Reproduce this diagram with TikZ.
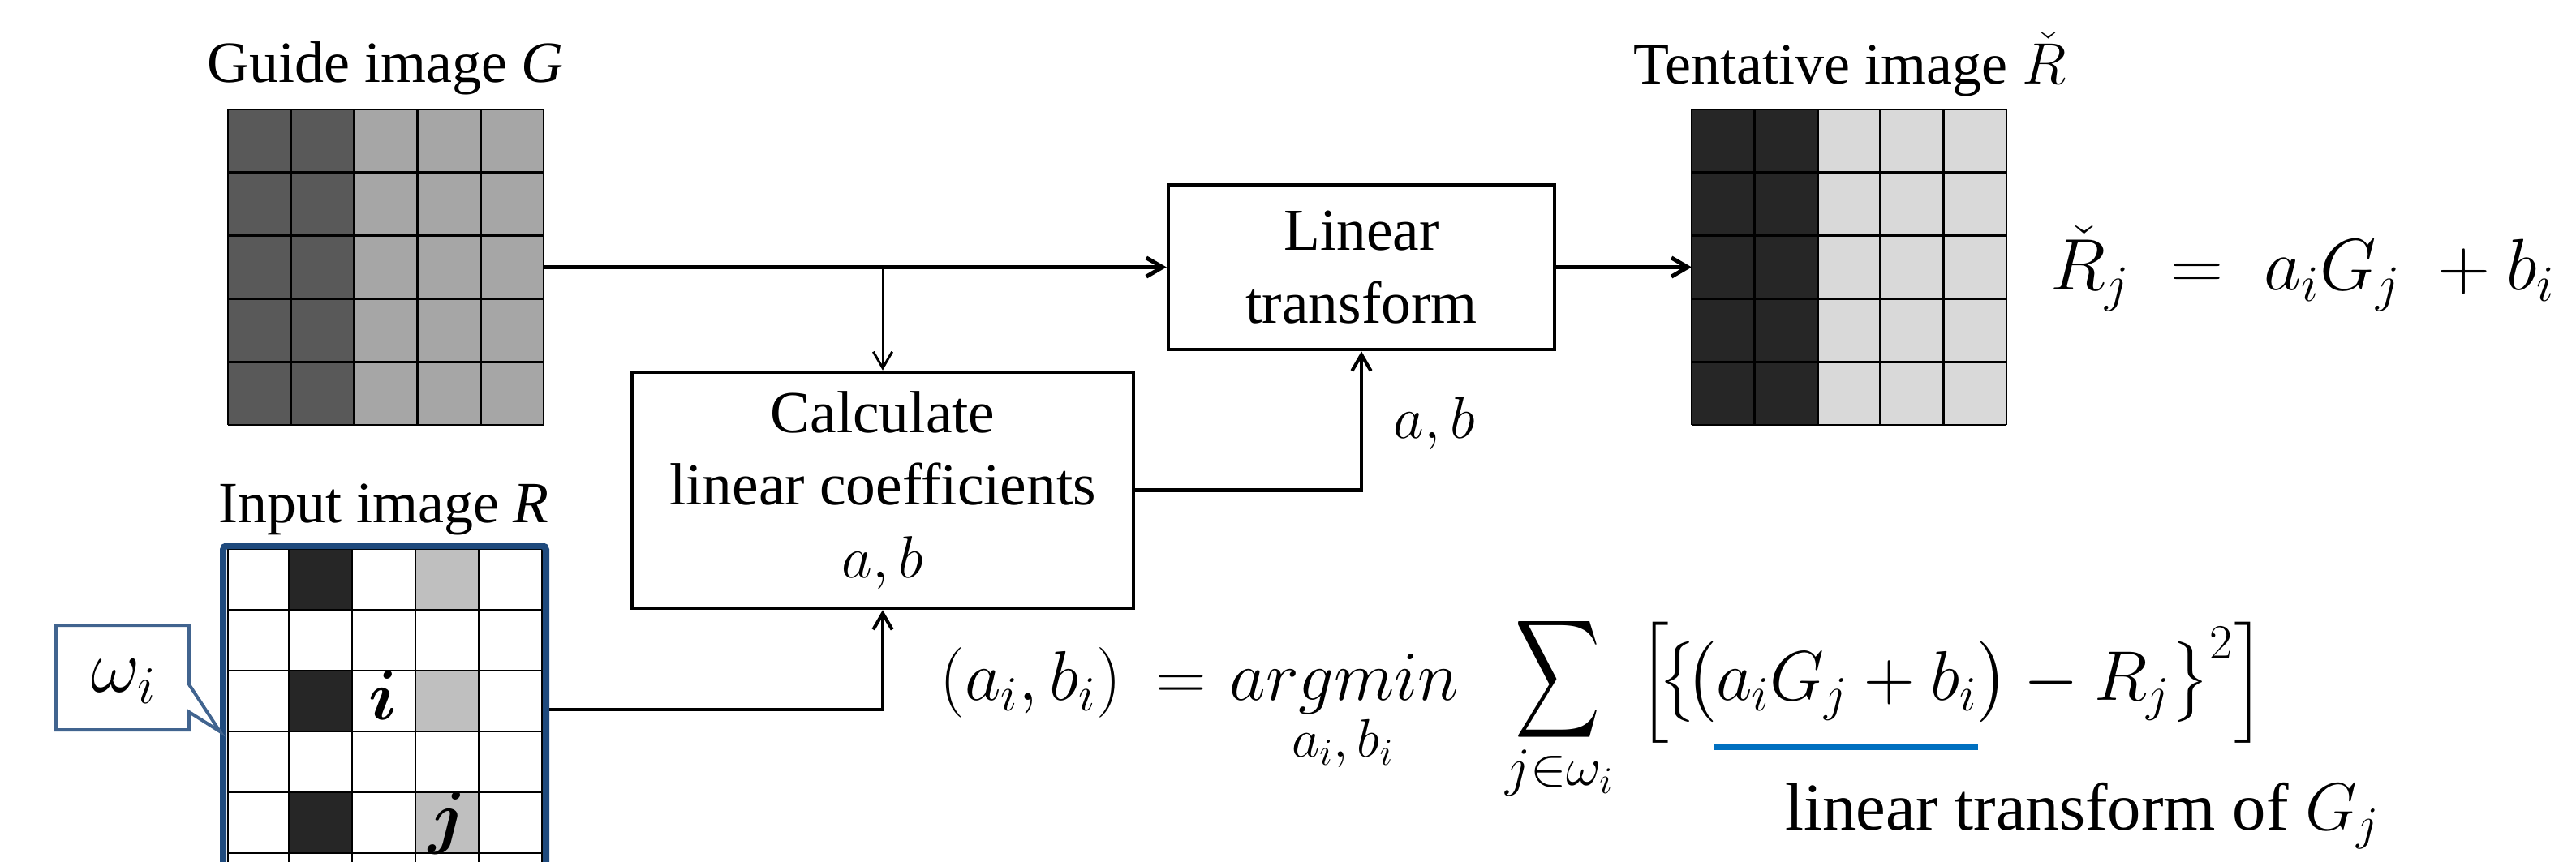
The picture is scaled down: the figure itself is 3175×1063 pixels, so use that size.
\RequirePackage{fix-cm}
\documentclass[tikz,border=0pt]{standalone}
\usepackage{fontspec}
\setmainfont{Liberation Serif}
\usepackage{amsmath,bm,graphicx}
\usetikzlibrary{arrows.meta,calc}
\definecolor{gdark}{HTML}{595959}
\definecolor{glight}{HTML}{A6A6A6}
\definecolor{tdark}{HTML}{262626}
\definecolor{tlight}{HTML}{D9D9D9}
\definecolor{rgray}{HTML}{BFBFBF}
\definecolor{frameblue}{HTML}{1F4A7D}
\definecolor{callblue}{HTML}{41648F}
\definecolor{ulblue}{HTML}{0070C0}
\tikzset{
  lbl/.style={font=\fontsize{21.6}{26}\selectfont, inner sep=0pt, anchor=base},
  procbox/.style={draw, line width=1.35pt, inner sep=0pt, align=center, font=\fontsize{22}{26.9}\selectfont},
  imgnode/.style={inner sep=0pt, outer sep=0pt},
  gline/.style={line width=0.85pt, black},
  conn/.style={line width=1.5pt, -{Straight Barb[length=6pt,width=7pt]}},
  connmid/.style={line width=1.25pt, -{Straight Barb[length=6pt,width=7pt]}},
  connthin/.style={line width=0.9pt, -{Straight Barb[length=6pt,width=7pt]}},
  mbig/.style={font=\fontsize{26}{31}\selectfont, inner sep=0pt, anchor=base west},
  msmall/.style={font=\fontsize{20}{24}\selectfont, inner sep=0pt, anchor=base},
}
\begin{document}
\begin{tikzpicture}[x=0.3pt,y=-0.3pt]
\useasboundingbox (0,0) rectangle (3175,1063);
\clip (0,0) rectangle (3175,1063);

% ---------- Guide image G ----------
\fill[gdark] (281,135) rectangle (436.6,524);
\fill[glight] (436.6,135) rectangle (670,524);
\foreach \i in {0,...,5} {
  \draw[gline] ({281+77.8*\i},135) -- ({281+77.8*\i},524);
  \draw[gline] (281,{135+77.8*\i}) -- (670,{135+77.8*\i});
}
\node[imgnode, minimum width=116.7pt, minimum height=116.7pt] (G) at (475.5,329.5) {};
\node[lbl] (Glbl) at (475,102) {Guide image \textit{G}};

% ---------- Tentative image ----------
\fill[tdark] (2085,135) rectangle (2240.2,524);
\fill[tlight] (2240.2,135) rectangle (2473,524);
\foreach \i in {0,...,5} {
  \draw[gline] ({2085+77.6*\i},135) -- ({2085+77.6*\i},524);
  \draw[gline] (2085,{135+77.8*\i}) -- (2473,{135+77.8*\i});
}
\node[imgnode, minimum width=116.4pt, minimum height=116.7pt] (T) at (2279,329.5) {};
\node[lbl] (Tlbl) at (2280,104) {Tentative image $\check{R}$};

% ---------- Input image R ----------
\foreach \r in {677,827,977} {
  \fill[tdark] (356,\r) rectangle (434,\r+75);
  \fill[rgray] (512,\r) rectangle (590,\r+75);
}
\foreach \c in {281,356,434,512,590,668}
  \draw[gline] (\c,677) -- (\c,1080);
\foreach \r in {677,752,827,902,977,1052}
  \draw[gline] (281,\r) -- (668,\r);
\node[draw=frameblue, line width=2.4pt, rounded corners=1.5pt, inner sep=0pt,
      minimum width=119.4pt, minimum height=121.2pt] (inR) at (474,875) {};
\node[lbl] (Rlbl) at (473,644) {Input image \textit{R}};
\node[font=\fontsize{26}{30}\selectfont, inner sep=0pt, anchor=base] (ci) at (472,887) {$\bm{i}$};
\node[font=\fontsize{26}{30}\selectfont, inner sep=0pt, anchor=base] (cj) at (552,1036) {$\bm{j}$};

% callout omega_i
\draw[callblue, line width=1.2pt, fill=white]
  (69,771) -- (233,771) -- (233,844) -- (271,902) -- (233,878) -- (233,900) -- (69,900) -- cycle;
\node[font=\fontsize{28}{32}\selectfont, inner sep=0pt, anchor=base] (omega) at (153,853) {$\omega_i$};

% ---------- process boxes ----------
\node[procbox, minimum width=142.8pt, minimum height=60.9pt] (lin) at (1678,329.5) {Linear\\transform};
\node[procbox, minimum width=185.4pt, minimum height=87.3pt] (calc) at (1088,604.5)
  {Calculate\\linear coefficients\\$a, b$};

% ---------- connectors ----------
\draw[conn] (G.east) -- (lin.west);
\draw[connthin] (G.east -| calc.north) -- (calc.north);
\draw[conn] (lin.east) -- (T.west);
\draw[connmid] (calc.east) -| (lin.south);
\draw[connmid] (inR.east) -| (calc.south);
\node[font=\fontsize{22}{26}\selectfont, inner sep=0pt, anchor=base] (ablbl) at (1768,541) {$a, b$};

% ---------- formula R_j ----------
\node[font=\fontsize{27}{32}\selectfont, inner sep=0pt, anchor=base west] (Rform) at (2527,358)
  {$\check{R}_j\;=\;a_iG_j\;+b_i$};

% ---------- argmin formula ----------
\node[mbig] (f1) at (1158,863) {$(a_i, b_i)$};
\node[mbig, anchor=base] (f2) at (1456,863) {$=$};
\node[mbig] (f3) at (1515,863) {$argmin$};
\node[msmall] (f4) at (1655,933) {$a_i, b_i$};
\node[inner sep=0pt] (f5) at (1920,838) {\resizebox*{31.5pt}{48.9pt}{$\displaystyle\sum$}};
\node[msmall] (f6) at (1922,968) {$j{\in}\omega_i$};
\node[mbig] (f7) at (2018,863)
  {$\Bigl[\!\bigl\{\!\bigl(a_iG_j+b_i\bigr)-R_j\bigr\}^{2}\Bigr]$};
\coordinate (ul1) at (2112,921);
\coordinate (ul2) at (2438,921);
\draw[ulblue, line width=2.1pt] (ul1) -- (ul2);
\node[font=\fontsize{24.8}{30}\selectfont, inner sep=0pt, anchor=base west] (ltlbl) at (2200,1023)
  {linear transform of $G_j$};
\end{tikzpicture}
\end{document}
